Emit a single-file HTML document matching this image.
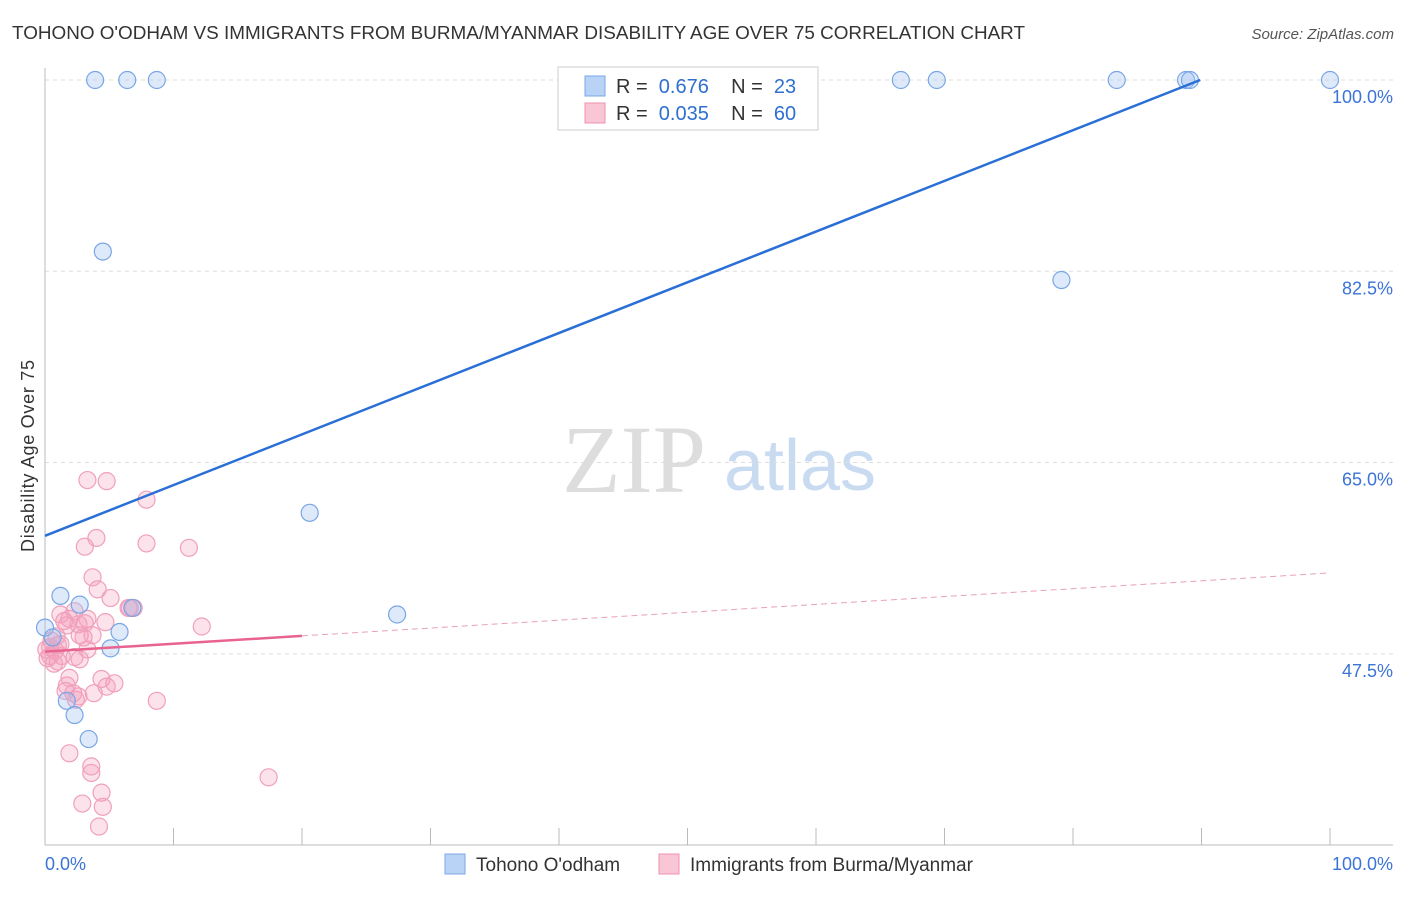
<!DOCTYPE html>
<html><head><meta charset="utf-8"><style>
body{margin:0;background:#fff;font-family:"Liberation Sans",sans-serif}
</style></head><body>
<svg id="c" width="1406" height="892" xmlns="http://www.w3.org/2000/svg">
<text x="12" y="39" font-size="18" fill="#333" textLength="1013" lengthAdjust="spacingAndGlyphs">TOHONO O'ODHAM VS IMMIGRANTS FROM BURMA/MYANMAR DISABILITY AGE OVER 75 CORRELATION CHART</text>
<text x="1394" y="39" font-size="15" fill="#555" font-style="italic" text-anchor="end">Source: ZipAtlas.com</text>
<text x="634" y="492" font-size="96" fill="#ddd" font-family="Liberation Serif" text-anchor="middle">ZIP</text>
<text x="800" y="490" font-size="72" fill="#c9dbf0" text-anchor="middle">atlas</text>
<text transform="translate(34,456) rotate(-90)" font-size="18" fill="#333" text-anchor="middle" textLength="192">Disability Age Over 75</text>
<g id="grid"></g><g id="pts"></g><g id="lines"></g>
<g>
<rect x="558" y="67" width="260" height="63" fill="#fff" stroke="#ccc"/>
<rect x="585" y="76" width="20" height="20" fill="#b9d3f6" stroke="#7aa7e8"/>
<rect x="585" y="103" width="20" height="20" fill="#f9c6d6" stroke="#ee92b0"/>
<text x="616" y="93" font-size="20" fill="#333" xml:space="preserve">R =  <tspan fill="#2f6fd1">0.676</tspan>    N =  <tspan fill="#2f6fd1">23</tspan></text>
<text x="616" y="120" font-size="20" fill="#333" xml:space="preserve">R =  <tspan fill="#2f6fd1">0.035</tspan>    N =  <tspan fill="#2f6fd1">60</tspan></text>
</g>
<g>
<rect x="445" y="854" width="20" height="20" fill="#b9d3f6" stroke="#7aa7e8"/>
<text x="476" y="871" font-size="19" fill="#333">Tohono O'odham</text>
<rect x="659" y="854" width="20" height="20" fill="#f9c6d6" stroke="#ee92b0"/>
<text x="690" y="871" font-size="19" fill="#333">Immigrants from Burma/Myanmar</text>
</g>
</svg>
<script>
const yTicks=[100,82.5,65,47.5];
const yTickLabels=["100.0%","82.5%","65.0%","47.5%"];
const blueX=[3.9,6.4,8.7,66.6,69.4,83.4,88.8,89.1,100,4.5,79.1,20.6,27.4,1.2,2.7,6.8,5.8,5.1,0,0.6,1.7,2.3,3.4];
const blueY=[100,100,100,100,100,100,100,100,100,84.3,81.7,60.4,51.1,52.8,52.0,51.7,49.5,48.0,49.9,49.0,43.2,41.9,39.7];
const pinkX=[3.3,4.8,7.9,3.1,4.0,7.9,11.2,3.7,4.1,5.1,6.9,12.2,1.2,2.3,3.3,1.9,3.1,1.7,3.7,2.7,0.9,0.5,1.0,0.8,0.4,0.2,1.3,2.3,2.7,0.7,3.3,4.4,5.4,4.8,1.9,1.7,2.2,2.6,3.8,2.4,8.7,1.9,3.6,3.6,4.4,2.9,4.5,4.2,17.4,6.5,6.6,1.5,4.7,1.0,0.1,0.4,1.2,3.0,2.6,1.6];
const pinkY=[63.4,63.3,61.6,57.3,58.1,57.6,57.2,54.5,53.4,52.6,51.7,50.0,51.1,51.4,50.7,50.7,50.3,50.1,49.2,49.2,49.1,48.7,48.3,47.8,47.3,47.1,47.3,47.2,47.0,46.6,47.9,45.2,44.8,44.5,45.3,44.6,43.9,43.6,43.9,43.3,43.2,38.4,37.2,36.6,34.8,33.8,33.5,31.7,36.2,51.7,51.7,50.5,50.4,46.8,47.9,48.1,48.4,49.0,50.2,44.1];
const blueLine=[[0,58.3],[89.9,100]];
const pinkLine=[[0,47.7],[100,54.9]];
const pinkSolidEnd=20;
const X=v=>45+v*12.85, Y=v=>80+(100-v)*10.93;
const ns="http://www.w3.org/2000/svg";
function mk(tag,at,par){const e=document.createElementNS(ns,tag);for(const k in at)e.setAttribute(k,at[k]);document.getElementById(par).appendChild(e);return e;}
yTicks.forEach((t,i)=>{
 const l=mk('line',{x1:45,x2:1393,y1:Y(t),y2:Y(t),stroke:'#ddd','stroke-dasharray':'4,4'},'grid');
 
 
 const tx=mk('text',{x:1393,y:Y(t)+23,'font-size':18,fill:'#3b73d6','text-anchor':'end'},'grid');
 tx.textContent=yTickLabels[i];
 
 
});
let ax=mk('line',{x1:45,x2:45,y1:68,y2:845,stroke:'#bbb'},'grid');


ax=mk('line',{x1:45,x2:1393,y1:845,y2:845,stroke:'#bbb'},'grid');


for(let i=0;i<=10;i++){const t=mk('line',{x1:X(i*10),x2:X(i*10),y1:828,y2:845,stroke:'#bbb'},'grid');
 
 }
[["0.0%",45,'start'],["100.0%",1393,'end']].forEach(a=>{const t=mk('text',{x:a[1],y:870,'font-size':18,fill:'#3b73d6','text-anchor':a[2]},'grid');t.textContent=a[0];
 
 });
pinkX.forEach((v,i)=>{const c=mk('circle',{cx:X(v),cy:Y(pinkY[i]),r:8.5,fill:'rgba(245,160,190,0.3)',stroke:'#f0a0bb','stroke-width':1.2},'pts');
 
 });
blueX.forEach((v,i)=>{const c=mk('circle',{cx:X(v),cy:Y(blueY[i]),r:8.5,fill:'rgba(160,195,240,0.35)',stroke:'#78a6e6','stroke-width':1.2},'pts');
 
 });
let l=mk('line',{x1:X(blueLine[0][0]),y1:Y(blueLine[0][1]),x2:X(blueLine[1][0]),y2:Y(blueLine[1][1]),stroke:'#2a6fd6','stroke-width':2.5},'lines');


const py=x=>pinkLine[0][1]+(pinkLine[1][1]-pinkLine[0][1])*(x-pinkLine[0][0])/(pinkLine[1][0]-pinkLine[0][0]);
l=mk('line',{x1:X(0),y1:Y(py(0)),x2:X(pinkSolidEnd),y2:Y(py(pinkSolidEnd)),stroke:'#e8638f','stroke-width':2.5},'lines');


l=mk('line',{x1:X(pinkSolidEnd),y1:Y(py(pinkSolidEnd)),x2:X(100),y2:Y(py(100)),stroke:'#e8a0b8','stroke-width':1,'stroke-dasharray':'6,4'},'lines');


</script>
</body></html>
